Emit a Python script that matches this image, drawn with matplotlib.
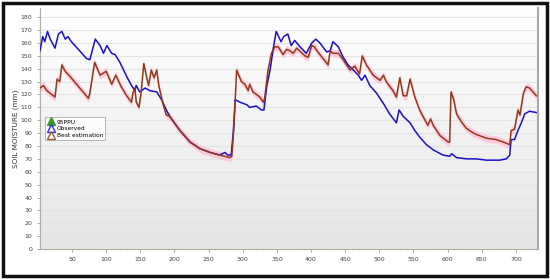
import numpy as np
import matplotlib
matplotlib.use("Agg")
import matplotlib.pyplot as plt
from matplotlib.lines import Line2D
from matplotlib.patches import Rectangle

# observed soil moisture (blue)
obs_x = [3, 7, 10, 14, 18, 25, 30, 35, 40, 44, 49, 61, 71, 76, 84, 91, 96, 101, 108, 113,
         120, 130, 137, 142, 144, 149, 157, 164, 174, 181, 188, 193, 208, 223, 237, 252, 266,
         274, 278, 283, 286, 289, 296, 306, 310, 320, 327, 331, 335, 340, 345, 349, 356, 360,
         366, 371, 376, 384, 393, 401, 407, 413, 423, 428, 432, 440, 447, 454, 462, 469, 474,
         479, 486, 496, 506, 515, 525, 529, 535, 545, 552, 559, 569, 579, 593, 603, 606, 613,
         628, 642, 657, 676, 686, 691, 693, 698, 703, 708, 713, 720, 730]
obs_y = [154, 165, 161, 169, 163, 156, 167, 169, 163, 165, 161, 154, 148, 147, 163, 158, 152, 158, 152, 151,
         145, 134, 127, 123, 127, 122, 125, 123, 122, 116, 108, 103, 92, 83, 78, 75, 73,
         75, 73, 73, 90, 116, 114, 112, 110, 111, 108, 108, 126, 139, 157, 169, 161, 165,
         167, 158, 162, 157, 152, 160, 163, 160, 153, 154, 161, 157, 149, 143, 139, 135, 131,
         135, 127, 121, 113, 105, 98, 108, 103, 98, 92, 87, 81, 77, 73, 72, 74, 71,
         70, 70, 69, 69, 70, 73, 85, 85, 92, 98, 105, 107, 106]

# best estimation (brown)
best_x = [3, 8, 13, 25, 28, 32, 35, 40, 47, 74, 76, 83, 91, 100, 108, 114, 122, 130, 137, 139,
          142, 144, 148, 151, 155, 159, 162, 166, 170, 174, 177, 183, 188, 193, 208, 223, 237,
          252, 266, 281, 284, 287, 291, 298, 303, 308, 310, 315, 325, 330, 332, 337, 342, 347,
          352, 359, 364, 369, 374, 379, 391, 396, 401, 405, 410, 425, 428, 432, 440, 447, 457,
          464, 471, 475, 481, 491, 501, 506, 510, 520, 525, 530, 535, 540, 545, 552, 559, 571,
          575, 579, 589, 601, 603, 605, 609, 613, 620, 627, 635, 642, 657, 671, 682, 691, 693,
          698, 703, 706, 711, 715, 720, 725, 730]
best_y = [125, 127, 123, 118, 132, 130, 143, 138, 134, 117, 121, 145, 135, 138, 128, 135, 126, 119, 114, 121,
          125, 114, 110, 121, 144, 134, 127, 139, 133, 139, 127, 113, 104, 103, 92, 83, 78,
          75, 73, 71, 72, 95, 139, 130, 128, 123, 128, 122, 118, 114, 117, 139, 152, 157,
          157, 151, 155, 154, 152, 156, 150, 149, 158, 157, 153, 143, 154, 152, 152, 147, 139,
          142, 136, 150, 143, 135, 131, 135, 130, 123, 118, 133, 119, 119, 132, 118, 108, 96,
          101, 96, 88, 83, 83, 122, 116, 105, 99, 94, 91, 89, 86, 85, 83, 81, 92,
          93, 108, 104, 121, 126, 125, 122, 119]

fig = plt.figure(figsize=(5.5, 2.79), dpi=100)
ax = fig.add_axes([0.0727, 0.1075, 0.905, 0.863])

# background gradient white -> light gray
grad = np.linspace(1.0, 0.0, 256).reshape(-1, 1)
ax.imshow(grad, cmap=matplotlib.colors.LinearSegmentedColormap.from_list(
    "bg", ["#e6e6e6", "#ffffff"]), aspect="auto", extent=[0, 1, 0, 1],
    transform=ax.transAxes, zorder=0)

# 95PPU band
bx = np.array(best_x)
by = np.array(best_y)
ax.fill_between(bx, by - 3, by + 3, color="#ffc0d8", alpha=0.8, lw=0, zorder=2)

ax.plot(obs_x, obs_y, color="#1a10c8", lw=1.1, zorder=3)
ax.plot(best_x, best_y, color="#93391a", lw=1.1, zorder=4)

ax.set_xlim(3, 732)
ax.set_ylim(0, 187)
ax.set_xticks(range(50, 701, 50))
ax.set_yticks(range(0, 181, 10))
ax.set_xticks(range(10, 731, 10), minor=True)
ax.set_yticks(range(0, 186, 2), minor=True)
ax.yaxis.grid(True, color="#e4e4e4", lw=0.8, zorder=1)
ax.set_axisbelow(True)
ax.tick_params(labelsize=4.5, labelcolor="#444444", colors="#999999", length=2, width=0.6)
ax.tick_params(which="minor", length=1, width=0.4, colors="#aaaaaa")

ax.spines["top"].set_visible(False)
ax.spines["left"].set_color("#b0b0a0")
ax.spines["bottom"].set_color("#b0b0a0")
ax.spines["right"].set_color("#a8a8a8")
ax.spines["right"].set_linewidth(1.5)

ax.set_ylabel("SOIL MOISTURE (mm)", fontsize=5.2, color="#333333", labelpad=1)

handles = [
    Line2D([], [], marker="^", color="none", markerfacecolor="#3a9a20",
           markeredgecolor="#3a9a20", markersize=6),
    Line2D([], [], marker="^", color="none", markerfacecolor="none",
           markeredgecolor="#3030e0", markersize=6),
    Line2D([], [], marker="^", color="none", markerfacecolor="none",
           markeredgecolor="#9a5a3a", markersize=6),
]
leg = ax.legend(handles, ["95PPU", "Observed", "Best estimation"], loc="upper left",
                bbox_to_anchor=(0.004, 0.56), fontsize=4.2, frameon=True, fancybox=False,
                handlelength=1.2, handletextpad=0.4, labelspacing=0.25, borderpad=0.4)
leg.get_frame().set_edgecolor("#999999")
leg.get_frame().set_linewidth(0.6)

# outer black border
fig.patches.append(Rectangle((0.006, 0.01), 0.988, 0.98, transform=fig.transFigure,
                             fill=False, edgecolor="#111111", lw=2.5))

fig.savefig("out.png", dpi=100)
